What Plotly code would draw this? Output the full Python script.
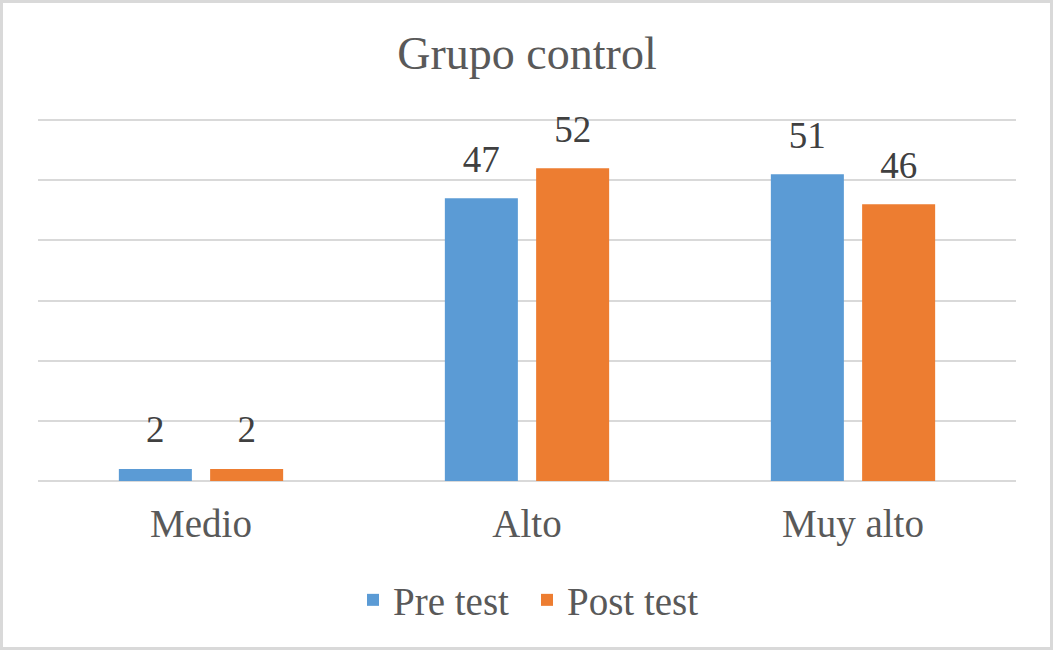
import plotly.graph_objects as go

categories = ["Medio", "Alto", "Muy alto"]
pre_test = [2, 47, 51]
post_test = [2, 52, 46]
series_names = ["Pre test", "Post test"]
title_text = "Grupo control"

W, H = 1054, 651
L, R, T, B = 38, 38, 117, 170
pw, ph = W - L - R, H - T - B

font_family = "Liberation Serif, Times New Roman, serif"
text_color = "#595959"
colors = ["#5B9BD5", "#ED7D31"]
GAP = 0.44

fig = go.Figure()
for name, vals, color in zip(series_names, [pre_test, post_test], colors):
    fig.add_trace(go.Bar(
        x=categories, y=vals, name=name,
        marker=dict(color=color, line=dict(width=0)),
        cliponaxis=False, hoverinfo="x+y+name",
    ))
# value labels as grouped scatter text, aligned with bars
for name, vals in zip(series_names, [pre_test, post_test]):
    fig.add_trace(go.Scatter(
        x=categories, y=vals, mode="markers+text", showlegend=False,
        text=[str(v) for v in vals], textposition="top center",
        marker=dict(size=26, opacity=0),
        textfont=dict(family=font_family, size=37, color="#404040"),
        cliponaxis=False, hoverinfo="skip", name=name,
    ))

fig.update_layout(
    width=W, height=H,
    margin=dict(l=L, r=R, t=T, b=B),
    paper_bgcolor="white", plot_bgcolor="white",
    barmode="group", bargap=GAP, bargroupgap=0.2,
    scattermode="group", scattergap=GAP,
    font=dict(family=font_family, color=text_color),
    title=dict(text=title_text, x=0.5, xanchor="center", y=1 - 53 / H, yanchor="middle",
               font=dict(family=font_family, size=46, color=text_color)),
    xaxis=dict(showgrid=False, zeroline=False, showline=False, ticks="",
               tickfont=dict(family=font_family, size=39, color=text_color),
               ticklabelstandoff=16),
    yaxis=dict(range=[0, 60.5], tickvals=[0, 10, 20, 30, 40, 50, 60], showticklabels=False, showgrid=True,
               gridcolor="#D9D9D9", gridwidth=2, zeroline=True, zerolinecolor="#D9D9D9",
               zerolinewidth=2, showline=False),
    legend=dict(orientation="h", x=0.5, xanchor="center", yanchor="middle",
                y=(H - B - 600) / ph, entrywidth=129, entrywidthmode="pixels",
                font=dict(family=font_family, size=39, color=text_color),
                itemsizing="constant", traceorder="normal"),
    showlegend=True,
)

fig.add_shape(type="rect", xref="paper", yref="paper",
              x0=(1.5 - L) / pw, x1=(W - 2.5 - L) / pw,
              y0=(H - B - (H - 2.5)) / ph, y1=(H - B - 1.5) / ph,
              line=dict(color="#D9D9D9", width=3), fillcolor="rgba(0,0,0,0)", layer="below")

fig.write_html("out.html", config={"displayModeBar": False},
               post_script="document.body.style.margin='0';document.body.style.padding='0';")
